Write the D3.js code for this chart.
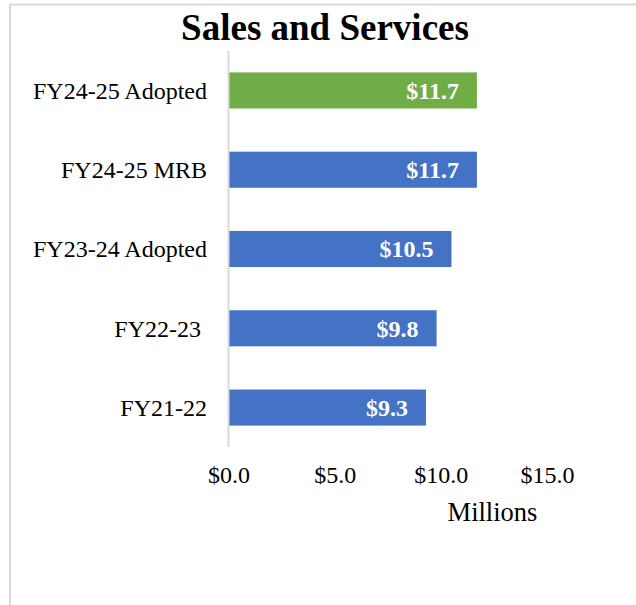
<!DOCTYPE html>
<html>
<head>
<meta charset="utf-8">
<script src="https://cdn.jsdelivr.net/npm/d3@7"></script>
<style>
  body { margin: 0; background: #fff; }
  svg text { font-family: "Liberation Serif", "Times New Roman", serif; white-space: pre; }
</style>
</head>
<body>
<svg id="canvas" width="636" height="605"></svg>
<script>
let categories = ["FY24-25 Adopted", "FY24-25 MRB", "FY23-24 Adopted", "FY22-23 ", "FY21-22"];
let values = [11.7, 11.7, 10.5, 9.8, 9.3];
let barColors = ["#70ad47", "#4472c4", "#4472c4", "#4472c4", "#4472c4"];
let tickValues = [0, 5, 10, 15];

let svg = d3.select("#canvas");

// chart frame (right and bottom edges fall outside the picture)
svg.append("rect")
  .attr("x", 10).attr("y", 4.5)
  .attr("width", 700).attr("height", 700)
  .attr("fill", "none")
  .attr("stroke", "#d9d9d9")
  .attr("stroke-width", 2);

let x = d3.scaleLinear().domain([0, 15]).range([228.5, 547]);
let y = d3.scaleBand().domain(categories).range([51, 447]).paddingInner(0.545).paddingOuter(0.27);

svg.append("text")
  .attr("x", 325).attr("y", 40)
  .attr("text-anchor", "middle")
  .attr("font-size", 37)
  .attr("font-weight", "bold")
  .text("Sales and Services");

svg.selectAll(".bar")
  .data(values)
  .enter()
  .append("rect")
  .attr("class", "bar")
  .attr("x", x(0))
  .attr("y", (d, i) => y(categories[i]))
  .attr("width", (d) => x(d) - x(0))
  .attr("height", y.bandwidth())
  .attr("fill", (d, i) => barColors[i]);

svg.selectAll(".val")
  .data(values)
  .enter()
  .append("text")
  .attr("class", "val")
  .attr("x", (d) => x(d) - 18)
  .attr("y", (d, i) => y(categories[i]) + y.bandwidth() / 2)
  .attr("dy", "0.35em")
  .attr("text-anchor", "end")
  .attr("font-size", 24)
  .attr("font-weight", "bold")
  .attr("fill", "#fff")
  .text((d) => "$" + d3.format(".1f")(d));

// category axis
svg.append("line")
  .attr("x1", x(0)).attr("x2", x(0))
  .attr("y1", 51).attr("y2", 447)
  .attr("stroke", "#d9d9d9").attr("stroke-width", 2);

svg.selectAll(".cat")
  .data(categories)
  .enter()
  .append("text")
  .attr("class", "cat")
  .attr("x", 207)
  .attr("y", (d) => y(d) + y.bandwidth() / 2)
  .attr("dy", "0.35em")
  .attr("text-anchor", "end")
  .attr("font-size", 24)
  .attr("fill", "#000")
  .text((d) => d);

// value axis
let xAxis = d3.axisBottom(x)
  .tickValues(tickValues)
  .tickSize(0)
  .tickPadding(0)
  .tickFormat((d) => "$" + d3.format(".1f")(d));

let gx = svg.append("g")
  .attr("transform", "translate(0,466)")
  .call(xAxis);
gx.select(".domain").remove();
gx.selectAll("text")
  .attr("font-size", 24)
  .attr("font-family", "Liberation Serif, Times New Roman, serif")
  .attr("fill", "#000");

svg.append("text")
  .attr("x", 492.5).attr("y", 521)
  .attr("text-anchor", "middle")
  .attr("font-size", 26.5)
  .text("Millions");
</script>
</body>
</html>
